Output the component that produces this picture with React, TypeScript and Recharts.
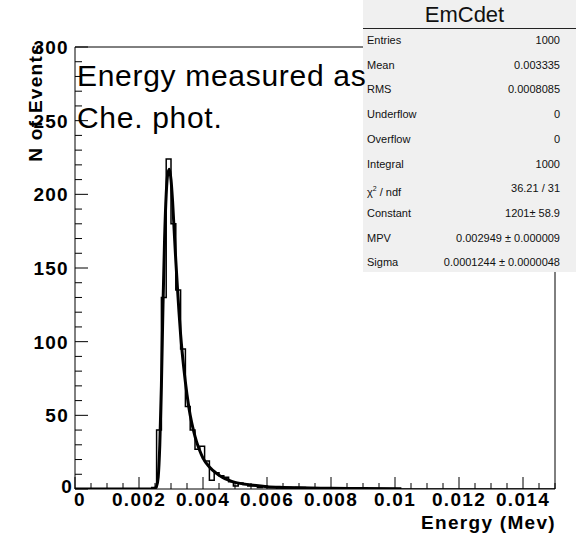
import { ComposedChart, Line, XAxis, YAxis, ReferenceArea } from "recharts";

// ─── Data ─────────────────────────────────────────────────────────────────────

// histogram: lower bin edges (bin width 0.00015) and entries
const BIN_LOW = [
  0.0024, 0.00255, 0.0027, 0.00285, 0.003, 0.00315, 0.0033, 0.00345, 0.0036,
  0.00375, 0.0039, 0.00405, 0.0042, 0.00435, 0.0045, 0.00465, 0.0048, 0.00495,
  0.0051, 0.00525, 0.0054, 0.00555, 0.0057, 0.00585, 0.006, 0.00615, 0.0063,
  0.00645, 0.0066, 0.00675, 0.0069, 0.00705, 0.0072,
];
const BIN_COUNTS = [
  1, 40, 130, 224, 180, 135, 95, 56, 40, 27, 29, 19, 6, 11, 9, 8, 5, 2, 4, 3, 2,
  2, 1, 2, 1, 1, 0, 1, 1, 0, 1, 1, 0,
];

// landau fit curve
const FIT_X = [
  0, 0.0024, 0.0025, 0.00255, 0.0026, 0.00265, 0.0027, 0.00275, 0.0028,
  0.00285, 0.0029, 0.00295, 0.003, 0.00305, 0.0031, 0.00315, 0.0032, 0.00325,
  0.0033, 0.0034, 0.0035, 0.0036, 0.0037, 0.0038, 0.0039, 0.004, 0.0042,
  0.0044, 0.0046, 0.0048, 0.005, 0.0055, 0.006, 0.0065, 0.007, 0.008, 0.009,
  0.0102,
];
const FIT_Y = [
  0, 0, 0.5, 2, 8, 30, 70, 125, 170, 200, 214, 217, 210, 195, 175, 155, 137,
  120, 105, 82, 64, 50, 40, 32, 26, 21, 15, 11, 8, 6, 4.5, 2.8, 1.6, 1.1, 0.8,
  0.5, 0.35, 0.25,
];

const X_TICKS = [
  0, 0.0005, 0.001, 0.0015, 0.002, 0.0025, 0.003, 0.0035, 0.004, 0.0045, 0.005,
  0.0055, 0.006, 0.0065, 0.007, 0.0075, 0.008, 0.0085, 0.009, 0.0095, 0.01,
  0.0105, 0.011, 0.0115, 0.012, 0.0125, 0.013, 0.0135, 0.014, 0.0145, 0.015,
];
const X_MAJOR = [0, 0.002, 0.004, 0.006, 0.008, 0.01, 0.012, 0.014];
const X_LABELS = ["0", "0.002", "0.004", "0.006", "0.008", "0.01", "0.012", "0.014"];

const Y_TICKS = [
  0, 10, 20, 30, 40, 50, 60, 70, 80, 90, 100, 110, 120, 130, 140, 150, 160,
  170, 180, 190, 200, 210, 220, 230, 240, 250, 260, 270, 280, 290, 300,
];
const Y_MAJOR = [0, 50, 100, 150, 200, 250, 300];
const Y_LABELS = ["0", "50", "100", "150", "200", "250", "300"];

const STATS = [
  ["Entries", "1000"],
  ["Mean", "0.003335"],
  ["RMS", "0.0008085"],
  ["Underflow", "0"],
  ["Overflow", "0"],
  ["Integral", "1000"],
  ["chi", "36.21 / 31"],
  ["Constant", "1201\u00b1 58.9"],
  ["MPV", "0.002949 \u00b1 0.000009"],
  ["Sigma", "0.0001244 \u00b1 0.0000048"],
];

const FONT = "'Liberation Sans', Arial, Helvetica, sans-serif";

const histData = [
  { x: 0, y: 0 },
  ...BIN_LOW.map((x, i) => ({ x, y: BIN_COUNTS[i] })),
  { x: 0.015, y: 0 },
];
const fitData = FIT_X.map((x, i) => ({ x, y: FIT_Y[i] }));

// ─── Ticks ────────────────────────────────────────────────────────────────────

function XTick({ x, y, payload }: any) {
  const i = X_MAJOR.findIndex((m) => Math.abs(m - payload.value) < 1e-9);
  const major = i >= 0;
  return (
    <g>
      <line x1={x} x2={x} y1={y} y2={y - (major ? 12 : 6)} stroke="#000" />
      {major && (
        <text
          x={i === 0 ? x + 5 : x}
          y={y + 17}
          textAnchor="middle"
          fontFamily={FONT}
          fontWeight="bold"
          fontSize={19}
          letterSpacing={1.3}
          fill="#000"
        >
          {X_LABELS[i]}
        </text>
      )}
    </g>
  );
}

function YTick({ x, y, payload }: any) {
  const i = Y_MAJOR.indexOf(payload.value);
  const major = i >= 0;
  return (
    <g>
      <line x1={x} x2={x + (major ? 13 : 7)} y1={y} y2={y} stroke="#000" />
      {major && (
        <text
          x={i === 0 ? x - 2 : x - 6}
          y={i === 0 ? y + 4 : y + 7}
          textAnchor="end"
          fontFamily={FONT}
          fontWeight="bold"
          fontSize={19}
          letterSpacing={1.3}
          fill="#000"
        >
          {Y_LABELS[i]}
        </text>
      )}
    </g>
  );
}

// ─── App ──────────────────────────────────────────────────────────────────────

export default function App() {
  return (
    <div style={{ position: "relative", width: 578, height: 548, background: "#fff" }}>
      <style>{"body{margin:0}"}</style>
      <ComposedChart
        width={578}
        height={548}
        margin={{ top: 47, right: 23, left: 0, bottom: 0 }}
      >
        <XAxis
          dataKey="x"
          type="number"
          domain={[0, 0.015]}
          ticks={X_TICKS}
          interval={0}
          allowDataOverflow
          height={59}
          axisLine={false}
          tickLine={false}
          tickSize={0}
          tickMargin={0}
          tick={(p: any) => <XTick {...p} />}
        />
        <YAxis
          type="number"
          domain={[0, 300]}
          ticks={Y_TICKS}
          interval={0}
          allowDataOverflow
          width={75}
          axisLine={false}
          tickLine={false}
          tickSize={0}
          tickMargin={0}
          tick={(p: any) => <YTick {...p} />}
        />
        <ReferenceArea
          x1={0}
          x2={0.015}
          y1={0}
          y2={300}
          fill="none"
          fillOpacity={0}
          stroke="#000"
          strokeWidth={1}
          ifOverflow="visible"
        />
        <Line
          data={histData}
          dataKey="y"
          type="stepAfter"
          stroke="#000"
          strokeWidth={1.5}
          dot={false}
          activeDot={false}
          isAnimationActive={false}
        />
        <Line
          data={fitData}
          dataKey="y"
          type="monotone"
          stroke="#000"
          strokeWidth={3}
          dot={false}
          activeDot={false}
          isAnimationActive={false}
        />
      </ComposedChart>

      {/* axis titles */}
      <svg
        width={578}
        height={548}
        style={{ position: "absolute", left: 0, top: 0, pointerEvents: "none" }}
      >
        <text
          x={556}
          y={529}
          textAnchor="end"
          fontFamily={FONT}
          fontWeight="bold"
          fontSize={19}
          letterSpacing={1.3}
        >
          Energy (Mev)
        </text>
        <text
          transform="translate(42,43) rotate(-90)"
          textAnchor="end"
          fontFamily={FONT}
          fontWeight="bold"
          fontSize={19}
          letterSpacing={1.3}
        >
          N of Events
        </text>
      </svg>

      {/* stats box */}
      <div
        style={{
          position: "absolute",
          left: 363,
          top: 0,
          width: 213,
          height: 272,
          background: "#f0f0f0",
          fontFamily: FONT,
          color: "#111",
        }}
      >
        <div
          style={{
            height: 28,
            borderBottom: "1px solid #222",
            textAlign: "center",
            fontSize: 22,
            lineHeight: "29px",
            paddingRight: 10,
          }}
        >
          EmCdet
        </div>
        {STATS.map(([label, value], i) => (
          <div
            key={label}
            style={{
              position: "absolute",
              left: 4,
              right: 16,
              top: 33 + i * 24.7,
              height: 15,
              lineHeight: "15px",
              fontSize: 11,
              display: "flex",
              justifyContent: "space-between",
            }}
          >
            <span>
              {label === "chi" ? (
                <>
                  {"\u03c7"}
                  <sup style={{ fontSize: 7 }}>2</sup>
                  {" / ndf"}
                </>
              ) : (
                label
              )}
            </span>
            <span>{value}</span>
          </div>
        ))}
      </div>

      {/* annotation, drawn over the stats box like the original */}
      <div
        style={{
          position: "absolute",
          left: 77,
          top: 55,
          fontFamily: FONT,
          fontSize: 30,
          lineHeight: "42px",
          letterSpacing: 0.7,
          color: "#000",
          whiteSpace: "nowrap",
        }}
      >
        Energy measured as
        <br />
        Che. phot.
      </div>
    </div>
  );
}
